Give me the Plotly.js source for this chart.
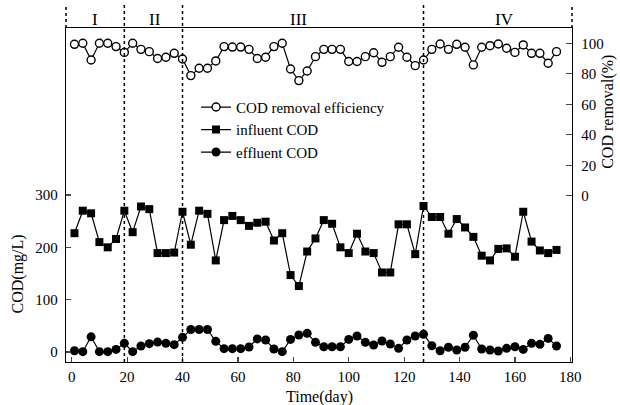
<!DOCTYPE html>
<html>
<head>
<meta charset="utf-8">
<script src="https://cdn.plot.ly/plotly-3.0.1.min.js"></script>
<style>html,body{margin:0;padding:0;background:#fff;}#chart{width:620px;height:405px;}</style>
</head>
<body>
<div id="chart"></div>
<script>
var days = [1,4,7,10,13,16,19,22,25,28,31,34,37,40,43,46,49,52,55,58,61,64,67,70,73,76,79,82,85,88,91,94,97,100,103,106,109,112,115,118,121,124,127,130,133,136,139,142,145,148,151,154,157,160,163,166,169,172,175];
var removalEfficiency = [99.3,100,89,100,100,97.8,94,100,96,94.5,90,90.8,93.4,89.7,78.8,83.6,83.6,88.4,97.8,97.5,97.5,96,90,90.8,97.8,100,83.1,75.5,81.8,91.2,96,96,96,88,88,91.2,93.8,87.5,91.2,97.4,90.8,85.3,89,96,99.5,96,99.3,97.4,85.8,97.4,98.4,99.5,96.7,94,98.9,93.4,93.4,86.9,94.5];
var influentCOD = [227,270,265,210,200,216,270,229,278,273,189,189,190,268,205,270,264,175,252,260,252,241,247,249,213,227,147,126,192,217,252,245,200,189,226,192,189,152,152,244,244,187,279,258,258,226,254,238,220,184,175,197,198,182,268,211,194,189,195];
var effluentCOD = [2.5,0.6,29,0.6,0.6,5,16.6,0.6,11.5,16,19,16.6,14,28,43,43,43,20.4,6.4,6.4,6.4,9.6,25,23,5.7,0.6,24,32.5,35.7,18.5,10,10,10,24,30.6,18.5,13.4,21,15.3,7,23,30.6,34,12,2.5,9,3.8,9,32,5.7,3.8,2,7,10,5,16.6,14.7,26,11.5];
var seriesNames = ['COD removal efficiency','influent COD','effluent COD'];
var phaseBounds = [19, 40, 127];
var phaseLabels = ['I','II','III','IV'];
var phaseLabelX = [8.4, 30, 81.7, 156.4];
var xTicks = [0,20,40,60,80,100,120,140,160,180];
var leftTicks = [0,100,200,300];
var rightTicks = [0,20,40,60,80,100];

var F = 'Liberation Serif, Times New Roman, serif';
var traces = [
  {x: days, y: removalEfficiency, name: seriesNames[0], yaxis: 'y2', type: 'scatter', mode: 'lines+markers',
   line: {color: '#000', width: 1.2},
   marker: {symbol: 'circle', size: 8, color: '#fff', line: {color: '#000', width: 1.4}}},
  {x: days, y: influentCOD, name: seriesNames[1], type: 'scatter', mode: 'lines+markers',
   line: {color: '#000', width: 1.2},
   marker: {symbol: 'square', size: 8, color: '#000'}},
  {x: days, y: effluentCOD, name: seriesNames[2], type: 'scatter', mode: 'lines+markers',
   line: {color: '#000', width: 1.2},
   marker: {symbol: 'circle', size: 9, color: '#000'}}
];

var shapes = [];
phaseBounds.forEach(function(b){
  shapes.push({type: 'line', xref: 'x', yref: 'paper', x0: b, x1: b, y0: 0, y1: 1.069,
    line: {color: '#000', width: 1.5, dash: 'dot'}});
});
[0, 1].forEach(function(p){
  shapes.push({type: 'line', xref: 'paper', yref: 'paper', x0: p, x1: p, y0: 1, y1: 1.069,
    line: {color: '#000', width: 1.5, dash: 'dot'}});
});

var annotations = [];
phaseLabels.forEach(function(t, i){
  annotations.push({text: t, xref: 'x', yref: 'paper', x: phaseLabelX[i], y: 1.025, showarrow: false,
    xanchor: 'center', yanchor: 'middle', font: {family: F, size: 17, color: '#000'}});
});
annotations.push({text: 'COD(mg/L)', xref: 'paper', yref: 'y', x: -0.095, y: 150, textangle: -90,
  showarrow: false, xanchor: 'center', yanchor: 'middle', font: {family: F, size: 16, color: '#000'}});
annotations.push({text: 'COD removal(%)', xref: 'paper', yref: 'y2', x: 1.071, y: 55, textangle: -90,
  showarrow: false, xanchor: 'center', yanchor: 'middle', font: {family: F, size: 16, color: '#000'}});
annotations.push({text: 'Time(day)', xref: 'paper', yref: 'paper', x: 0.5, y: -0.104,
  showarrow: false, xanchor: 'center', yanchor: 'middle', font: {family: F, size: 16, color: '#000'}});

var layout = {
  width: 620, height: 405,
  margin: {l: 66, r: 48, t: 28, b: 43, pad: 0},
  paper_bgcolor: '#fff', plot_bgcolor: '#fff',
  font: {family: F, size: 15, color: '#000'},
  showlegend: true,
  legend: {x: 0.257, y: 0.812, xanchor: 'left', yanchor: 'top', bgcolor: 'rgba(0,0,0,0)',
    font: {family: F, size: 15, color: '#000'}, tracegroupgap: 0},
  xaxis: {range: [-2.06, 180.6], tickvals: xTicks, ticks: 'inside', ticklen: 5, tickwidth: 1.2,
    showline: true, mirror: true, linecolor: '#000', linewidth: 1.3, showgrid: false, zeroline: false,
    ticklabelstandoff: 1, tickfont: {family: F, size: 15, color: '#000'}},
  yaxis: {range: [-19.1, 619.1], tickvals: leftTicks, ticks: 'inside', ticklen: 5, tickwidth: 1.2,
    showline: true, linecolor: '#000', linewidth: 1.3, showgrid: false, zeroline: false,
    ticklabelstandoff: 4, tickfont: {family: F, size: 15, color: '#000'}},
  yaxis2: {range: [-109, 110], tickvals: rightTicks, overlaying: 'y', side: 'right', ticks: 'inside',
    ticklen: 6, tickwidth: 1.2, showline: true, linecolor: '#000', linewidth: 1.3, showgrid: false,
    zeroline: false, ticklabelstandoff: 5, tickfont: {family: F, size: 15, color: '#000'}},
  shapes: shapes,
  annotations: annotations
};

Plotly.newPlot('chart', traces, layout, {displayModeBar: false, staticPlot: true});
</script>
</body>
</html>
